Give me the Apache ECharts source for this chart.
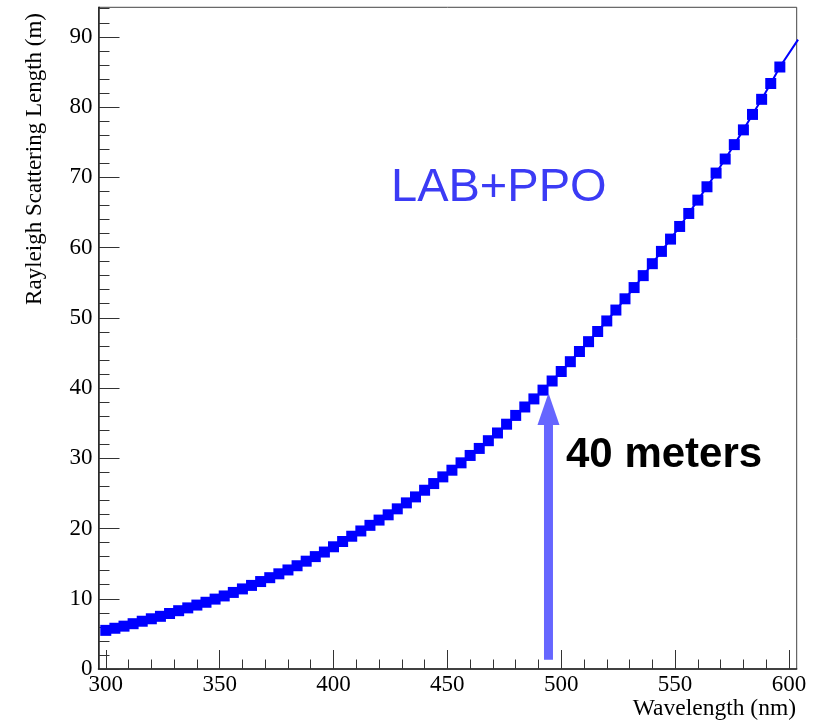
<!DOCTYPE html>
<html>
<head>
<meta charset="utf-8">
<script src="https://cdn.jsdelivr.net/npm/echarts@6/dist/echarts.min.js"></script>
<style>
html,body{margin:0;padding:0;background:#fff;}
#c{width:816px;height:720px;}
</style>
</head>
<body>
<div id="c"></div>
<script>
// ---- data ----
const wavelength = [300,304,308,312,316,320,324,328,332,336,340,344,348,352,356,360,364,368,372,376,380,384,388,392,396,400,404,408,412,416,420,424,428,432,436,440,444,448,452,456,460,464,468,472,476,480,484,488,492,496,500,504,508,512,516,520,524,528,532,536,540,544,548,552,556,560,564,568,572,576,580,584,588,592,596,604];
const scatLength = [5.5,5.8,6.1,6.45,6.8,7.15,7.5,7.9,8.3,8.7,9.1,9.5,9.95,10.4,10.9,11.4,11.9,12.45,13.0,13.55,14.1,14.7,15.35,16.0,16.65,17.4,18.15,18.9,19.65,20.45,21.2,21.95,22.8,23.65,24.5,25.45,26.4,27.35,28.3,29.35,30.4,31.4,32.5,33.6,34.85,36.1,37.3,38.45,39.7,41.0,42.35,43.75,45.2,46.6,48.05,49.55,51.1,52.7,54.3,56.0,57.7,59.45,61.2,63.0,64.85,66.75,68.65,70.6,72.6,74.65,76.75,78.95,81.1,83.35,85.7,89.6];
const xMajorTicks = [300,350,400,450,500,550,600];
const xMinorTicks = [300,310,320,330,340,350,360,370,380,390,400,410,420,430,440,450,460,470,480,490,500,510,520,530,540,550,560,570,580,590,600];
const yMajorTicks = [0,10,20,30,40,50,60,70,80,90];
const yMinorTicks = [0,2,4,6,8,10,12,14,16,18,20,22,24,26,28,30,32,34,36,38,40,42,44,46,48,50,52,54,56,58,60,62,64,66,68,70,72,74,76,78,80,82,84,86,88,90,92,94];
const arrowX = [494.4];
const arrowFrom = [1.3];
const arrowTo = [39.3];
const xTitle = 'Wavelength (nm)';
const yTitle = 'Rayleigh Scattering Length (m)';
const tagText = 'LAB+PPO';
const noteText = '40 meters';

const X_MIN = 296.8, X_MAX = 603.4, Y_MIN = 0, Y_MAX = 94.2;
const serif = '"Liberation Serif", "DejaVu Serif", serif';
const sans = '"Liberation Sans", Arial, sans-serif';

const lineData = wavelength.map((w, i) => {
  const item = { value: [w, scatLength[i]] };
  if (w > X_MAX) item.symbol = 'none';
  return item;
});
const arrowData = arrowX.map((x, i) => [x, arrowFrom[i], arrowTo[i]]);

const chart = echarts.init(document.getElementById('c'), null, { renderer: 'canvas' });

const option = {
  animation: false,
  backgroundColor: '#fff',
  grid: { left: 98.5, right: 19.3, top: 7.3, bottom: 51, show: true, borderColor: '#444', borderWidth: 1, backgroundColor: 'transparent' },
  xAxis: [
    {
      type: 'value', gridIndex: 0, position: 'bottom', min: X_MIN, max: X_MAX,
      axisLine: { show: true, lineStyle: { color: '#222', width: 1.5 } },
      axisTick: { show: true, inside: true, length: 19, customValues: xMajorTicks, lineStyle: { color: '#333', width: 1 } },
      axisLabel: { show: true, customValues: xMajorTicks, margin: 4, color: '#000', fontFamily: serif, fontSize: 23 },
      splitLine: { show: false }
    },
    {
      type: 'value', gridIndex: 0, position: 'bottom', min: X_MIN, max: X_MAX,
      axisLine: { show: false },
      axisTick: { show: true, inside: true, length: 9.5, customValues: xMinorTicks, lineStyle: { color: '#333', width: 1 } },
      axisLabel: { show: false },
      splitLine: { show: false }
    }
  ],
  yAxis: [
    {
      type: 'value', gridIndex: 0, position: 'left', min: Y_MIN, max: Y_MAX,
      axisLine: { show: true, lineStyle: { color: '#222', width: 1.5 } },
      axisTick: { show: true, inside: true, length: 21, customValues: yMajorTicks, lineStyle: { color: '#333', width: 1 } },
      axisLabel: { show: true, customValues: yMajorTicks, margin: 6, color: '#000', fontFamily: serif, fontSize: 23 },
      splitLine: { show: false }
    },
    {
      type: 'value', gridIndex: 0, position: 'left', min: Y_MIN, max: Y_MAX,
      axisLine: { show: false },
      axisTick: { show: true, inside: true, length: 11, customValues: yMinorTicks, lineStyle: { color: '#333', width: 1 } },
      axisLabel: { show: false },
      splitLine: { show: false }
    }
  ],
  series: [
    {
      type: 'line', xAxisIndex: 0, yAxisIndex: 0, data: lineData, clip: true,
      symbol: 'rect', symbolSize: 11, showAllSymbol: true,
      lineStyle: { color: '#0000ff', width: 2 },
      itemStyle: { color: '#0000ff', borderWidth: 0 },
      emphasis: { disabled: true }, z: 3
    },
    {
      type: 'custom', xAxisIndex: 0, yAxisIndex: 0, data: arrowData, clip: false, z: 4,
      renderItem: function (params, api) {
        const base = api.coord([api.value(0), api.value(1)]);
        const tip = api.coord([api.value(0), api.value(2)]);
        const headLen = 32, headW = 22, shaftW = 9;
        const headBase = tip[1] + headLen;
        return {
          type: 'group',
          children: [
            { type: 'rect', shape: { x: base[0] - shaftW / 2, y: headBase - 1, width: shaftW, height: base[1] - headBase + 1 }, style: { fill: '#6666ff' } },
            { type: 'polygon', shape: { points: [[tip[0], tip[1]], [tip[0] - headW / 2, headBase], [tip[0] + headW / 2, headBase]] }, style: { fill: '#6666ff' } }
          ]
        };
      }
    }
  ],
  graphic: [
    { type: 'text', x: 796, y: 709, style: { text: xTitle, align: 'right', verticalAlign: 'middle', font: '23.5px ' + serif, fill: '#000' } },
    { type: 'text', x: 35, y: 13, rotation: Math.PI / 2, style: { text: yTitle, align: 'right', verticalAlign: 'middle', font: '23px ' + serif, fill: '#000' } },
    { type: 'text', x: 391, y: 188, style: { text: tagText, align: 'left', verticalAlign: 'middle', font: '47px ' + sans, fill: '#3b3bf5' } },
    { type: 'text', x: 566, y: 455, style: { text: noteText, align: 'left', verticalAlign: 'middle', font: 'bold 42px ' + sans, fill: '#000' } }
  ]
};
chart.setOption(option);
</script>
</body>
</html>
